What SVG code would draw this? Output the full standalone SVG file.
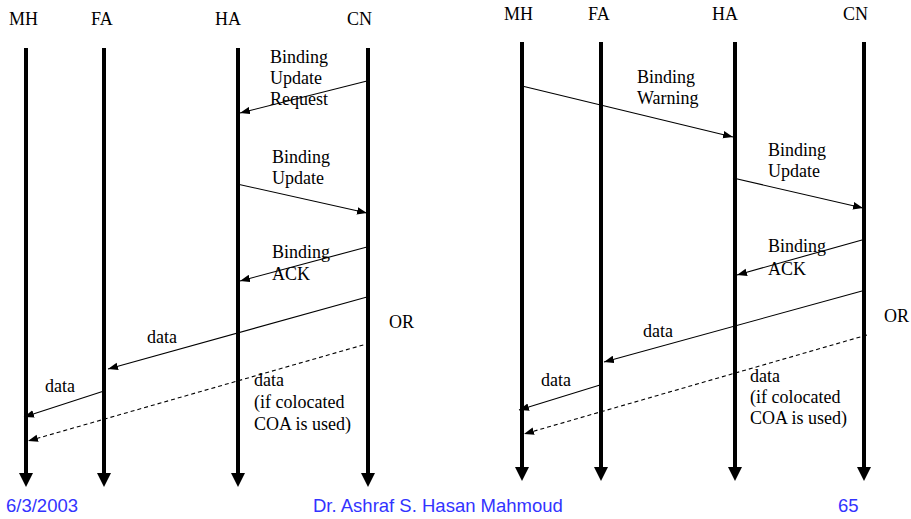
<svg xmlns="http://www.w3.org/2000/svg" width="911" height="519" viewBox="0 0 911 519">
<defs>
<style>
.t{font-family:"Liberation Serif","Times New Roman",serif;font-size:18px;fill:#000}
.f{font-family:"Liberation Sans",Arial,sans-serif;font-size:18.5px;fill:#3333ff}
.life{stroke:#000;stroke-width:4;fill:none}
.msg{stroke:#000;stroke-width:1.1;fill:none}
.dash{stroke-dasharray:4,3}
</style>
<marker id="big" markerUnits="userSpaceOnUse" markerWidth="14" markerHeight="14" refX="0" refY="6" orient="auto" viewBox="0 0 12 12">
<path d="M0,0 L12,6 L0,12 z" fill="#000"/>
</marker>
<marker id="sm" markerUnits="userSpaceOnUse" markerWidth="10" markerHeight="8" refX="8" refY="3" orient="auto" viewBox="0 0 8 6">
<path d="M0,0 L8,3 L0,6 z" fill="#000"/>
</marker>
</defs>
<rect width="911" height="519" fill="#fff"/>

<!-- Left diagram nodes -->
<g id="L-MH"><text class="t" x="9" y="25">MH</text><line class="life" x1="26" y1="48" x2="26" y2="473" marker-end="url(#big)"/></g>
<g id="L-FA"><text class="t" x="91" y="25">FA</text><line class="life" x1="104" y1="48" x2="104" y2="473" marker-end="url(#big)"/></g>
<g id="L-HA"><text class="t" x="215" y="25">HA</text><line class="life" x1="238" y1="48" x2="238" y2="473" marker-end="url(#big)"/></g>
<g id="L-CN"><text class="t" x="347" y="25">CN</text><line class="life" x1="368" y1="48" x2="368" y2="473" marker-end="url(#big)"/></g>

<!-- Right diagram nodes -->
<g id="R-MH"><text class="t" x="504" y="20">MH</text><line class="life" x1="522" y1="42" x2="522" y2="467" marker-end="url(#big)"/></g>
<g id="R-FA"><text class="t" x="588" y="20">FA</text><line class="life" x1="601" y1="42" x2="601" y2="467" marker-end="url(#big)"/></g>
<g id="R-HA"><text class="t" x="712" y="20">HA</text><line class="life" x1="735" y1="42" x2="735" y2="467" marker-end="url(#big)"/></g>
<g id="R-CN"><text class="t" x="843" y="20">CN</text><line class="life" x1="864" y1="42" x2="864" y2="467" marker-end="url(#big)"/></g>

<!-- Connectors -->
<g id="connectors">
<line class="msg" x1="367" y1="81" x2="240" y2="113" marker-end="url(#sm)"/>
<line class="msg" x1="237" y1="184" x2="367" y2="213" marker-end="url(#sm)"/>
<line class="msg" x1="367" y1="247" x2="240" y2="281" marker-end="url(#sm)"/>
<line class="msg" x1="367" y1="297" x2="108" y2="369" marker-end="url(#sm)"/>
<line class="msg" x1="104" y1="391" x2="24" y2="417" marker-end="url(#sm)"/>
<line class="msg dash" x1="370" y1="343" x2="28" y2="441" marker-end="url(#sm)"/>

<line class="msg" x1="522" y1="86" x2="733" y2="137" marker-end="url(#sm)"/>
<line class="msg" x1="733" y1="178" x2="863" y2="208" marker-end="url(#sm)"/>
<line class="msg" x1="862" y1="240" x2="737" y2="275" marker-end="url(#sm)"/>
<line class="msg" x1="862" y1="291" x2="604" y2="362" marker-end="url(#sm)"/>
<line class="msg" x1="600" y1="385" x2="519" y2="410" marker-end="url(#sm)"/>
<line class="msg dash" x1="867" y1="335" x2="524" y2="434" marker-end="url(#sm)"/>
</g>

<!-- Left labels -->
<g id="L-labels">
<text class="t" x="270" y="63">Binding</text>
<text class="t" x="270" y="84">Update</text>
<text class="t" x="270" y="105">Request</text>
<text class="t" x="272" y="163">Binding</text>
<text class="t" x="272" y="184">Update</text>
<text class="t" x="272" y="258">Binding</text>
<text class="t" x="272" y="280">ACK</text>
<text class="t" x="389" y="328">OR</text>
<text class="t" x="147" y="343">data</text>
<text class="t" x="45" y="392">data</text>
<text class="t" x="254" y="386">data</text>
<text class="t" x="254" y="408">(if colocated</text>
<text class="t" x="254" y="430">COA is used)</text>
</g>

<!-- Right labels -->
<g id="R-labels">
<text class="t" x="637" y="83">Binding</text>
<text class="t" x="637" y="104">Warning</text>
<text class="t" x="768" y="156">Binding</text>
<text class="t" x="768" y="177">Update</text>
<text class="t" x="768" y="252">Binding</text>
<text class="t" x="768" y="275">ACK</text>
<text class="t" x="884" y="322">OR</text>
<text class="t" x="643" y="337">data</text>
<text class="t" x="541" y="386">data</text>
<text class="t" x="750" y="382">data</text>
<text class="t" x="750" y="403">(if colocated</text>
<text class="t" x="750" y="424">COA is used)</text>
</g>

<!-- Footer -->
<g id="footer">
<text class="f" x="6" y="512">6/3/2003</text>
<text class="f" x="313" y="512">Dr. Ashraf S. Hasan Mahmoud</text>
<text class="f" x="838" y="512">65</text>
</g>
</svg>
